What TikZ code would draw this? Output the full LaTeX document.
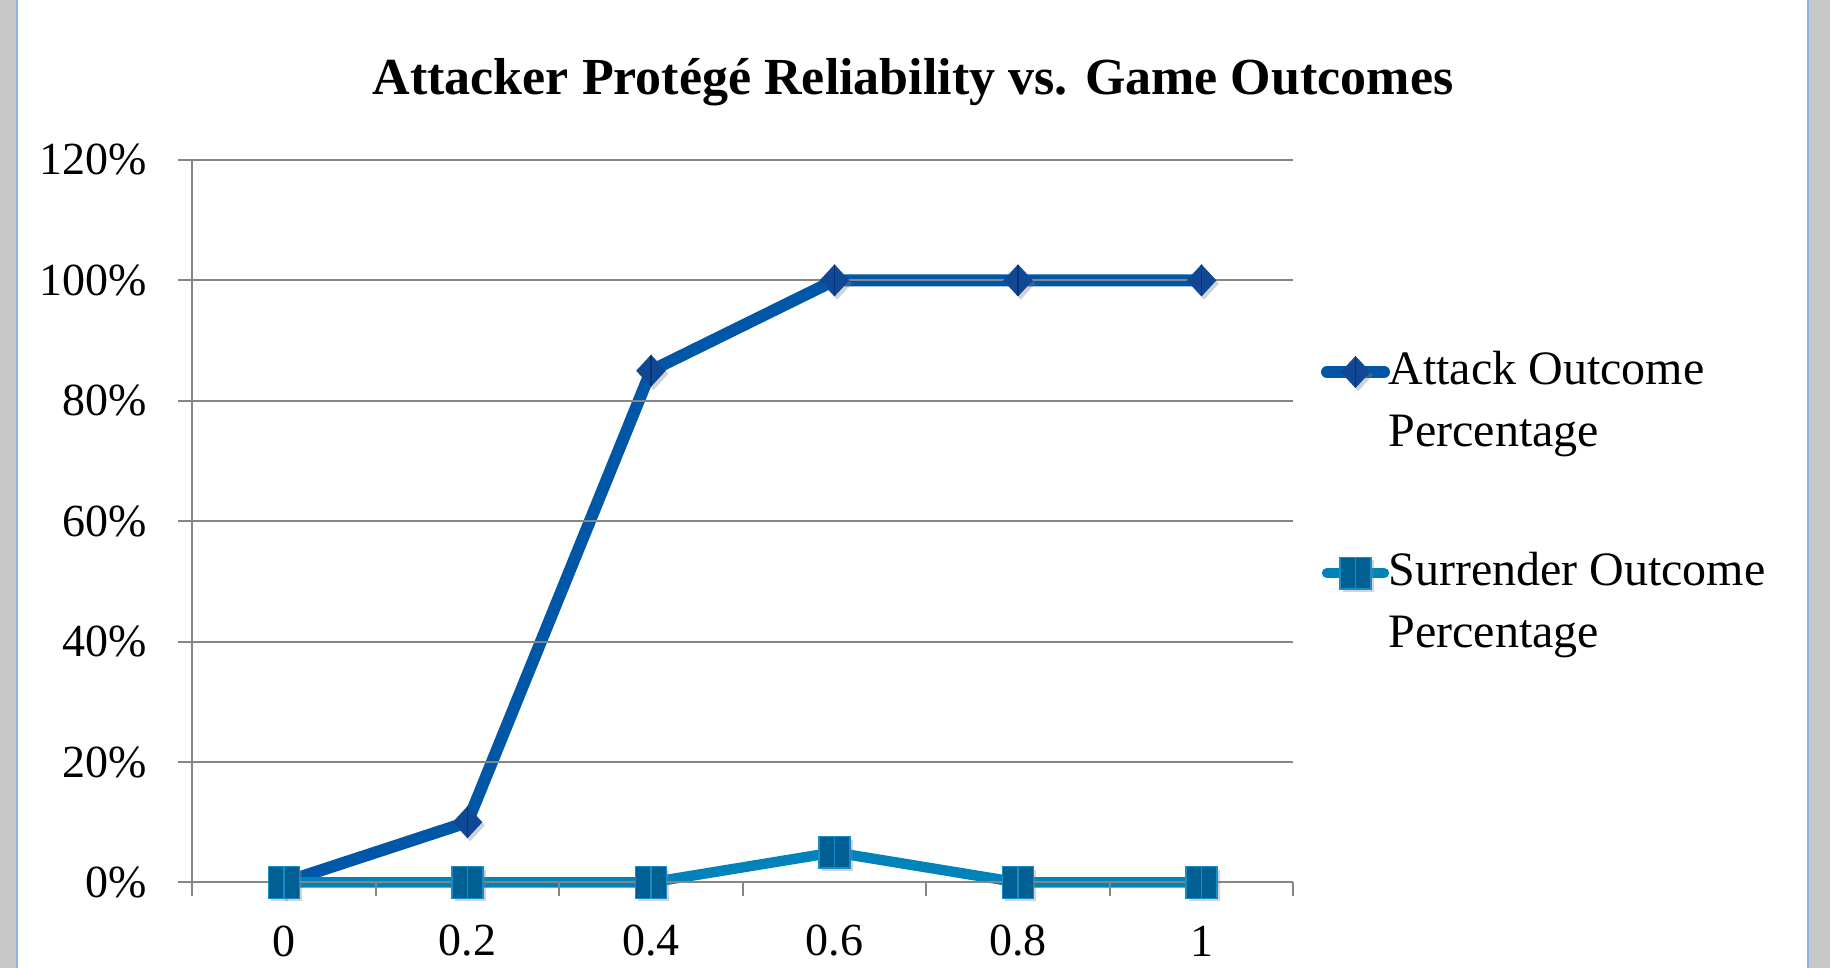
\documentclass[tikz,border=0pt]{standalone}
\usepackage{fontspec}
\setmainfont{Liberation Serif}
\usetikzlibrary{shapes.geometric,shadows}
\definecolor{attackline}{RGB}{0,87,168}
\definecolor{attackmark}{RGB}{16,72,150}
\definecolor{attackstripe}{RGB}{8,50,120}
\definecolor{survline}{RGB}{0,131,186}
\definecolor{survmark}{RGB}{0,96,148}
\definecolor{survedge}{RGB}{24,140,198}
\definecolor{gridgray}{RGB}{134,134,134}
\definecolor{framegray}{RGB}{200,200,200}
\definecolor{frameblue}{RGB}{140,182,226}
\pgfdeclarelayer{lines}
\pgfsetlayers{lines,main}
\tikzset{
  grid line/.style={draw=gridgray,line width=1pt},
  ylab/.style={anchor=east,font=\fontsize{23}{27}\selectfont,inner sep=0pt},
  xlab/.style={anchor=center,font=\fontsize{23}{27}\selectfont,inner sep=0pt},
  legtext/.style={anchor=base west,font=\fontsize{24}{28}\selectfont,inner sep=0pt},
  attack series/.style={draw=attackline,line width=6pt,line join=round},
  surrender series/.style={draw=survline,line width=5.2pt,line join=round},
  dmark/.style={diamond,aspect=0.92,minimum width=15pt,minimum height=16.2pt,inner sep=0pt,fill=attackmark,
    drop shadow={opacity=0.35,shadow xshift=1.3pt,shadow yshift=-1.6pt},
    path picture={\draw[attackstripe,line width=0.9pt]
      (path picture bounding box.north) -- (path picture bounding box.south);}},
  smark/.style={rectangle,minimum width=15.5pt,minimum height=15.8pt,inner sep=0pt,fill=survmark,
    draw=survedge,line width=0.7pt,
    drop shadow={opacity=0.35,shadow xshift=1.3pt,shadow yshift=-1.6pt},
    path picture={\draw[survedge,line width=0.9pt]
      (path picture bounding box.north) -- (path picture bounding box.south);}},
}
\begin{document}
\begin{tikzpicture}[x=0.5pt,y=-0.5pt]
\useasboundingbox (0,0) rectangle (1830,968);
% window frame strips
\fill[framegray] (0,0) rectangle (17,968);
\draw[frameblue,line width=0.8pt] (17,0) -- (17,968);
\fill[framegray] (1808,0) rectangle (1830,968);
\draw[frameblue,line width=0.8pt] (1808,0) -- (1808,968);

% title
\node[anchor=base,font=\bfseries\fontsize{26}{30}\selectfont,inner sep=0pt] (title)
  at (913,95) {Attacker Protégé Reliability vs. Game Outcomes};

% horizontal grid and value labels
\foreach \j/\lab in {0/0\%,1/20\%,2/40\%,3/60\%,4/80\%,5/100\%,6/120\%}{
  \pgfmathsetmacro{\yy}{882.4-\j*120.4}
  \draw[grid line] (178,\yy) -- (1293,\yy);
  \node[ylab] (y\j) at (147,\yy) {\lab};
}
% vertical axis and category ticks
\draw[grid line] (192.3,160) -- (192.3,896);
\foreach \k in {0,...,6}{
  \pgfmathsetmacro{\xx}{192.3+\k*183.5}
  \draw[grid line] (\xx,882.4) -- (\xx,896);
}
% category labels
\foreach \k/\lab in {0/0,1/0.2,2/0.4,3/0.6,4/0.8,5/1}{
  \pgfmathsetmacro{\xx}{284+\k*183.5}
  \node[xlab] (x\k) at (\xx,941) {\lab};
}

% data markers
\foreach \k/\v in {0/0,1/10,2/85,3/100,4/100,5/100}{
  \pgfmathsetmacro{\xx}{284+\k*183.5}
  \pgfmathsetmacro{\yy}{882.4-\v*6.02}
  \node[dmark] (a\k) at (\xx,\yy) {};
}
\foreach \k/\v in {0/0,1/0,2/0,3/5,4/0,5/0}{
  \pgfmathsetmacro{\xx}{284+\k*183.5}
  \pgfmathsetmacro{\yy}{882.4-\v*6.02}
  \node[smark] (s\k) at (\xx,\yy) {};
}
% series lines beneath the markers
\begin{pgfonlayer}{lines}
\draw[attack series] (a0.center) -- (a1.center) -- (a2.center) -- (a3.center) -- (a4.center) -- (a5.center);
\draw[surrender series] (s0.center) -- (s1.center) -- (s2.center) -- (s3.center) -- (s4.center) -- (s5.center);
\end{pgfonlayer}

% legend
\coordinate (la0) at (1327,372);
\coordinate (la1) at (1384,372);
\draw[attack series,line cap=round] (la0) -- (la1);
\node[dmark] (lam) at (1355.5,372) {};
\node[legtext] (lat1) at (1388,384) {Attack Outcome};
\node[legtext] (lat2) at (1388,446) {Percentage};

\coordinate (ls0) at (1327,573);
\coordinate (ls1) at (1384,573);
\draw[surrender series,line cap=round] (ls0) -- (ls1);
\node[smark] (lsm) at (1355.5,573) {};
\node[legtext] (lst1) at (1388,585) {Surrender Outcome};
\node[legtext] (lst2) at (1388,647) {Percentage};
\end{tikzpicture}
\end{document}
